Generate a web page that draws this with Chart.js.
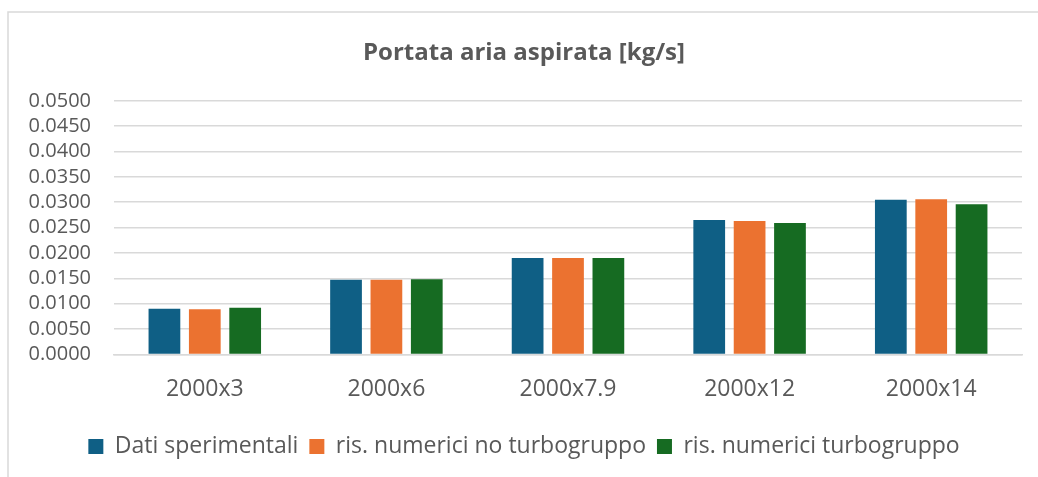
<!DOCTYPE html>
<html>
<head>
<meta charset="utf-8">
<script src="https://cdn.jsdelivr.net/npm/chart.js@4.4.1/dist/chart.umd.min.js"></script>
<style>
  html, body { margin: 0; padding: 0; background: #ffffff; }
  #wrap { position: relative; width: 1038px; height: 477px; }
</style>
</head>
<body>
<div id="wrap"><canvas id="c" width="1038" height="477"></canvas></div>
<script>
const categories = ["2000x3", "2000x6", "2000x7.9", "2000x12", "2000x14"];
const seriesNames = ["Dati sperimentali", "ris. numerici no turbogruppo", "ris. numerici turbogruppo"];
const datiSperimentali = [0.0090, 0.0147, 0.0190, 0.0265, 0.0305];
const noTurbogruppo = [0.0089, 0.0147, 0.0190, 0.0263, 0.0306];
const turbogruppo = [0.0092, 0.0148, 0.0190, 0.0259, 0.0296];
const yMin = 0, yMax = 0.05, yStep = 0.005;
const titleText = "Portata aria aspirata [kg/s]";

const colors = ["#0F5F85", "#EB7230", "#166B22"];
const textColor = "#595959";
const gridColor = "#D9D9D9";

const borderPlugin = {
  id: "frame",
  beforeDraw(chart) {
    const ctx = chart.ctx;
    ctx.save();
    ctx.fillStyle = "#ffffff";
    ctx.fillRect(0, 0, chart.width, chart.height);
    ctx.strokeStyle = gridColor;
    ctx.lineWidth = 1.5;
    ctx.beginPath();
    ctx.moveTo(8, chart.height);
    ctx.lineTo(8, 12);
    ctx.lineTo(chart.width, 12);
    ctx.stroke();
    ctx.restore();
  }
};

new Chart(document.getElementById("c"), {
  type: "bar",
  data: {
    labels: categories,
    datasets: [
      { label: seriesNames[0], data: datiSperimentali, backgroundColor: colors[0] },
      { label: seriesNames[1], data: noTurbogruppo, backgroundColor: colors[1] },
      { label: seriesNames[2], data: turbogruppo, backgroundColor: colors[2] }
    ]
  },
  options: {
    responsive: false,
    animation: false,
    devicePixelRatio: 1,
    layout: { padding: { left: 26, right: 16, top: 39, bottom: 9 } },
    datasets: { bar: { categoryPercentage: 0.667, barPercentage: 0.786 } },
    plugins: {
      title: {
        display: true,
        text: titleText,
        color: textColor,
        font: { family: "'Open Sans'", size: 24, weight: "bold" },
        padding: { top: 0, bottom: 33 }
      },
      legend: {
        position: "bottom",
        labels: {
          color: textColor,
          font: { family: "'Open Sans'", size: 23 },
          boxWidth: 15,
          boxHeight: 15,
          padding: 11
        }
      },
      tooltip: { enabled: false }
    },
    scales: {
      x: {
        grid: { display: false, drawTicks: false },
        border: { display: true, color: gridColor, width: 1.5 },
        ticks: { color: textColor, font: { family: "'Open Sans'", size: 23 }, padding: 21 }
      },
      y: {
        min: yMin,
        max: yMax,
        grid: { color: gridColor, lineWidth: 1.5, drawTicks: false },
        border: { display: false },
        afterFit(scale) { scale.width = 88; },
        ticks: {
          stepSize: yStep,
          autoSkip: false,
          color: textColor,
          font: { family: "'Open Sans'", size: 20 },
          padding: 23,
          callback: (v) => Number(v).toFixed(4)
        }
      }
    }
  },
  plugins: [borderPlugin]
});
</script>
</body>
</html>
